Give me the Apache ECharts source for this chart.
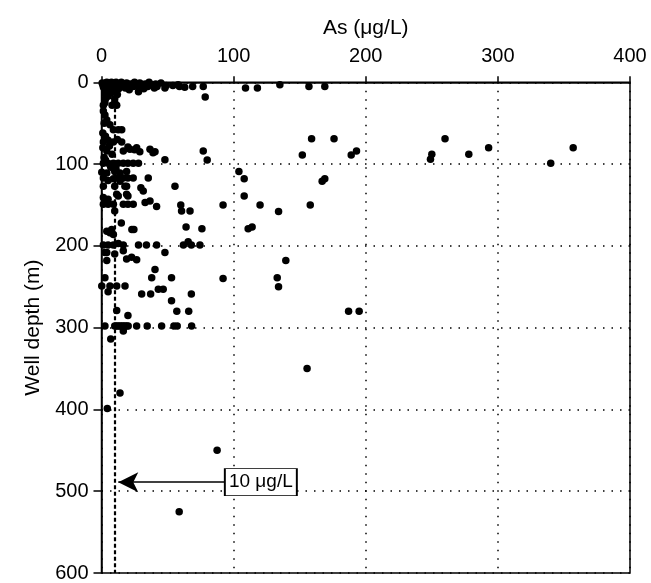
<!DOCTYPE html>
<html>
<head>
<meta charset="utf-8">
<script src="https://cdn.jsdelivr.net/npm/echarts@6/dist/echarts.min.js"></script>
<style>html,body{margin:0;padding:0;background:#fff}#c{width:651px;height:583px}</style>
</head>
<body>
<div id="c"></div>
<script>
// Values: [As (µg/L), well depth (m)]
const xTicks = [0, 100, 200, 300, 400];
const yTicks = [0, 100, 200, 300, 400, 500, 600];
const guideAs = 10;
const guideLabel = '10 μg/L';

const wellsTop = [
  [0.5,1],[1,3],[1.5,6],[2,2],[2.5,8],[3,1],[3.5,4],[4,0],[4.5,10],[5,2],[5.5,5],[6,1],[6.5,7],[7,3],[7.5,0],
  [8,5],[8.5,2],[9,9],[9.5,1],[10,4],[11,0],[11.5,6],[12,2],[13,8],[14,3],[15,0],[16,5],[17,2],[18,7],[19,1],
  [20,4],[21,9],[22,2],[24,5],[25,0],[26,3],[28,6],[29,1],[30,4],[32,8],[33,2],[35,5],[36,0],[38,3],[40,7],
  [41,2],[42,5],[45,1],[48,7],[49,4],[54,4],[58,3],[59,5],[63,6],[69,5],[77,5],[78.5,18],[109,7],[118,7],
  [135,3],[157,5],[169,5]
];
const wells10to100 = [
  [28,11.5],[10,20],[11.5,28],[2.6,14],[1.4,28],[2.6,25],[10,25],[8,28],[5,17],[7,13],[3,20],[12,15],
  [2.6,40],[4,46],[6.4,52],[9,58],[12.7,58],[15.3,58],[1.4,35],[2,50],[1,62],[3,66],[1.4,73],[5,71],[9,73],
  [15.3,73],[1,80],[4,84],[8,88],[2,92],[20,79],[25,82.5],[29,85],[36.7,82],[39,86],[40.5,85],[48,94.6],
  [16.5,84],[21.5,82],[26.6,80],[12,70],[6,78],[77,84],[80,95],[152,89],[159,69],[176,69],[189,89],[193,84],
  [249,94],[250,88],[260,69],[278,88],[293,80],[357,80]
];
const wells100to200 = [
  [1.4,99],[5,99],[9,99],[12.7,99],[16.5,99],[20,99],[24,99],[28,99],[3,95],[7,104],[11,106],[340,99],
  [0.2,110],[4,111],[10,109],[14,111],[19,109],[104,109],[108,118],[108,139],
  [1.4,117],[5,120],[9,118],[12.6,117],[16.5,117],[20,117],[24,117],[35.4,117],[14,121],[19,127],[31.6,133],
  [29.8,129],[55.6,127],[1.4,127],[10,127],[17.7,127],[167,121],[169,118],[11.5,137],[19,137],
  [1.4,141],[5,143],[12.7,139],[20,139],[1.4,149],[5,149],[9,149],[16.5,149],[20,149],[24,149],[33,147],
  [36.7,145],[41.7,152],[60,150],[60.6,157.5],[67,157.5],[10,157.5],[92,150],[120,150],[134,158],[158,150],
  [15,172],[7.7,180],[6.4,184],[9,186],[23,180],[24.5,180],[64,177],[76,179],[111,179],[114,177],[4,182],
  [1.4,199],[5,199],[9,199],[12.7,197],[16.5,199],[28,199],[34,199],[41.7,199],[62,199],[65.6,195],[68,199],[74.5,199]
];
const wells200to300 = [
  [4,208],[10,210],[16.5,206],[2.6,208],[4,218],[19,216],[22.8,214],[26.6,217],[48,208],[40.5,229],[2.6,239],
  [38,239],[53,239],[92,240],[139.5,218],[133,239],[0.2,249],[6.4,249],[11.5,249],[17.8,249],[134,250],
  [5,256],[30.4,259],[37.2,259],[43,253],[46.7,253],[68,259],[53,267],[11.5,279],[20,285],[57,280],[66,280],
  [187,280],[195,280],[2.6,298],[10,298],[11.3,298],[12.6,298],[13.9,298],[15.2,298],[16.4,298],[17.7,298],
  [19,298],[20.2,298],[26.6,298],[34.6,298],[45.5,298],[54.8,298],[57.3,298],[68.2,298],[16.5,304]
];
const wellsDeep = [[7,314],[14,380],[4.4,399],[155.6,350],[87.5,450],[58.8,525]];

const allWells = [].concat(wellsTop, wells10to100, wells100to200, wells200to300, wellsDeep);
const arrowFrom = [93.4, 489];
const arrowTo = [12.7, 489];
const boxAt = [120.6, 489];

const font = "'Liberation Sans', Arial, sans-serif";
const chart = echarts.init(document.getElementById('c'), null, {renderer: 'canvas'});
chart.setOption({
  animation: false,
  backgroundColor: '#fff',
  textStyle: {fontFamily: font},
  grid: {left: 101.5, top: 82.3, right: 21, bottom: 6, show: true, borderColor: '#000', borderWidth: 1.5, backgroundColor: 'transparent'},
  xAxis: {
    type: 'value', position: 'top', min: xTicks[0], max: xTicks[xTicks.length-1], interval: 100,
    name: 'As (μg/L)', nameLocation: 'middle', nameGap: 44,
    nameTextStyle: {fontSize: 21, color: '#000', fontFamily: font},
    axisLine: {show: true, lineStyle: {color: '#000', width: 1.5}},
    axisTick: {show: true, length: 6, lineStyle: {color: '#000', width: 1.5}},
    axisLabel: {fontSize: 20, color: '#000', margin: 16, fontFamily: font},
    splitLine: {show: true, lineStyle: {color: '#000', type: [1.5, 7], width: 1.5}}
  },
  yAxis: {
    type: 'value', inverse: true, min: yTicks[0], max: yTicks[yTicks.length-1], interval: 100,
    name: 'Well depth (m)', nameLocation: 'middle', nameGap: 58, nameRotate: 90,
    nameTextStyle: {fontSize: 21, color: '#000', fontFamily: font},
    axisLine: {show: true, lineStyle: {color: '#000', width: 1.5}},
    axisTick: {show: true, length: 8, lineStyle: {color: '#000', width: 1.5}},
    axisLabel: {fontSize: 20, color: '#000', margin: 13, fontFamily: font},
    splitLine: {show: true, lineStyle: {color: '#000', type: [1.5, 7], width: 1.5}}
  },
  series: [{
    type: 'scatter',
    data: allWells,
    symbol: 'circle',
    symbolSize: 7.5,
    itemStyle: {color: '#000', opacity: 1},
    silent: true,
    markLine: {
      silent: true,
      animation: false,
      symbol: ['none', 'none'],
      label: {show: false},
      data: [
        {xAxis: guideAs, lineStyle: {color: '#000', type: [4, 2.5], width: 2.2}},
        [
          {coord: arrowFrom, symbol: 'none', lineStyle: {color: '#000', type: 'solid', width: 1.5}},
          {coord: arrowTo, symbol: 'arrow', symbolSize: [15, 20]}
        ]
      ]
    },
    markPoint: {
      silent: true,
      animation: false,
      data: [{
        coord: boxAt, symbol: 'rect', symbolSize: [72, 27],
        itemStyle: {color: '#fff', borderColor: '#000', borderWidth: 1.2},
        label: {show: true, position: 'inside', formatter: guideLabel, color: '#000', fontSize: 19, fontFamily: font}
      }]
    }
  }]
});
</script>
</body>
</html>
